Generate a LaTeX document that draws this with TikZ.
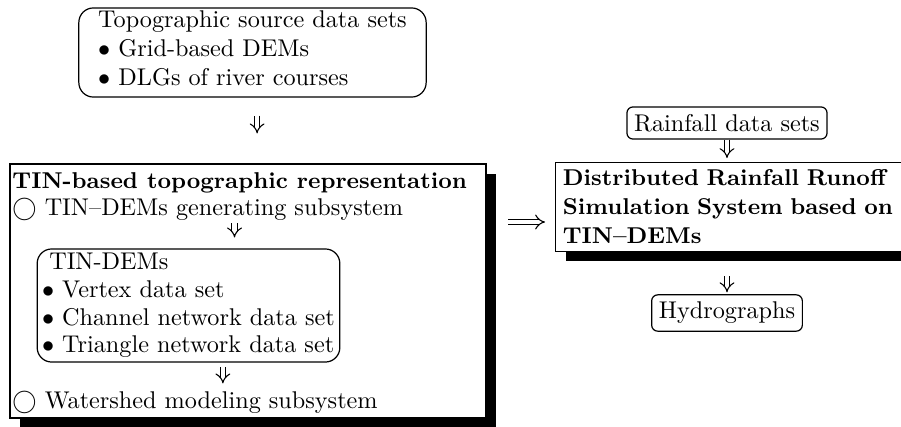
\documentclass[tikz,border=0pt]{standalone}
\usetikzlibrary{positioning,shadows,arrows.meta}

\begin{document}
\begin{tikzpicture}[
        x=0.413pt, y=-0.413pt, % one unit = one pixel of the scan
        dnarrow/.style={double, double distance=1.7pt, line width=0.45pt, -{Implies}}, % double arrow
        roundbox/.style={draw, line width=0.5pt, rounded corners=6pt, align=left, inner ysep=1pt}, % rounded frame
        smallbox/.style={draw, line width=0.5pt, rounded corners=2.5pt, inner sep=3pt}, % small rounded frame
        shadowbox/.style={draw, line width=0.5pt, fill=white, drop shadow={fill=black, opacity=1, shadow xshift=4.1pt, shadow yshift=-4.1pt}}, % shadowed frame
        textline/.style={inner sep=0pt, anchor=base west}, % line of text inside the frame
        boldfont/.style={font=\fontsize{9.45}{12}\selectfont\bfseries} % slightly narrower bold
    ]
        \useasboundingbox (0,0) rectangle (901,427);

        % Topographic sources (top)
        \node (source) [roundbox, inner xsep=8pt, minimum height=36.8pt] at (252.5,52.5)
            {Topographic source data sets\\ $\bullet$ Grid-based DEMs\\ $\bullet$ DLGs of river courses\strut};

        % Left frame with its contents
        \node (tinrep) [shadowbox, minimum width=196.6pt, minimum height=104.9pt] at (248,291) {};
        \node (title) [textline, boldfont] at (12,188) {TIN-based topographic representation};
        \node (gensub) [textline] at (12,215) {$\bigcirc$ TIN--DEMs generating subsystem};
        \node (tindems) [roundbox, inner xsep=2pt, text width=121pt, minimum height=46.7pt, font=\fontsize{10}{11.4}\selectfont] at (188.5,305.5)
            {\hspace*{3pt}TIN-DEMs\\ $\bullet$ Vertex data set\\ $\bullet$ Channel network data set\\ $\bullet$ Triangle network data set};
        \node (watershed) [textline] at (12,408) {$\bigcirc$ Watershed modeling subsystem};

        % Right column
        \node (rainfall) [smallbox] at (727,123) {Rainfall data sets};
        \node (drrss) [shadowbox, anchor=west, inner sep=3pt, text width=150pt, minimum height=36.3pt, align=left, boldfont] at (555,207)
            {Distributed Rainfall Runoff\\ Simulation System based on\\ TIN--DEMs};
        \node (hydro) [smallbox] at (727,313) {Hydrographs};

        % Connect the left column
        \draw [dnarrow, shorten <=7.4pt, shorten >=12.4pt] ([xshift=1.9pt]source.south) -- ([xshift=1.9pt]source.south |- tinrep.north);
        \draw [dnarrow, shorten <=1.2pt, shorten >=4.5pt] ([xshift=19pt]tindems.north |- gensub.south) -- ([xshift=19pt]tindems.north);
        \draw [dnarrow, shorten <=2pt, shorten >=3pt] ([xshift=14.2pt]tindems.south) -- ([xshift=14.2pt]tindems.south |- watershed.north);

        % Left frame to simulation system
        \draw [dnarrow, shorten <=9pt, shorten >=4.1pt] ([yshift=-6.2pt]drrss.west -| tinrep.east) -- ([yshift=-6.2pt]drrss.west);

        % Connect the right column
        \draw [dnarrow, shorten >=1.6pt] (rainfall.south) -- (rainfall.south |- drrss.north);
        \draw [dnarrow, shorten <=10pt, shorten >=0.8pt] (hydro.north |- drrss.south) -- (hydro.north);

    \end{tikzpicture}
\end{document}
